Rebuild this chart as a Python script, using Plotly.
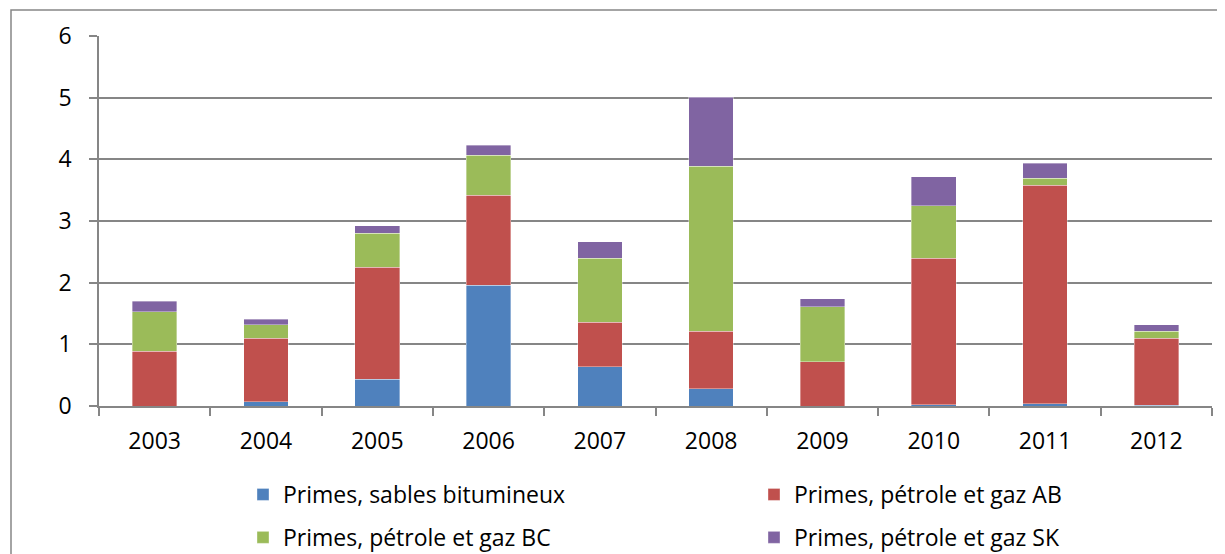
import plotly.graph_objects as go

years = ["2003", "2004", "2005", "2006", "2007", "2008", "2009", "2010", "2011", "2012"]
sables = [0.0, 0.07, 0.43, 1.96, 0.64, 0.28, 0.0, 0.02, 0.04, 0.01]
ab = [0.89, 1.03, 1.82, 1.46, 0.72, 0.93, 0.72, 2.38, 3.54, 1.09]
bc = [0.64, 0.22, 0.55, 0.65, 1.04, 2.68, 0.89, 0.85, 0.11, 0.11]
sk = [0.17, 0.09, 0.12, 0.16, 0.26, 1.12, 0.13, 0.47, 0.25, 0.11]

names = ["Primes, sables bitumineux", "Primes, pétrole et gaz AB",
         "Primes, pétrole et gaz BC", "Primes, pétrole et gaz SK"]
colors = ["#4F81BD", "#C0504D", "#9BBB59", "#8064A2"]
legends = ["legend", "legend2", "legend", "legend2"]

fig = go.Figure()
for i, (vals, name, col, lg) in enumerate(zip([sables, ab, bc, sk], names, colors, legends)):
    fig.add_trace(go.Bar(x=years, y=vals, name=name, legend=lg, legendgroup=str(i),
                         marker=dict(color=col, line=dict(color="rgba(255,255,255,0.6)", width=0.6))))

font = "'Open Sans', sans-serif"
FS = 23
# figure pixel coords (page body has an 8px margin)
L, R, T, B = 91, 1204, 28, 398
W, H = 1217, 546
pw, ph = R - L, B - T

leg_common = dict(orientation="v", yanchor="top", xanchor="left", traceorder="grouped",
                  font=dict(size=FS, family=font, color="black"), tracegroupgap=10,
                  bgcolor="rgba(0,0,0,0)", itemclick=False)
fig.update_layout(
    barmode="stack",
    bargap=0.6,
    width=W, height=H,
    margin=dict(l=L, r=W - R, t=T, b=H - B, autoexpand=False),
    paper_bgcolor="white", plot_bgcolor="white",
    font=dict(family=font, size=FS, color="black"),
    showlegend=True,
    legend=dict(x=144 / pw, y=-67 / ph, **leg_common),
    legend2=dict(x=655 / pw, y=-67 / ph, **leg_common),
    xaxis=dict(type="category", showline=True, linecolor="#868686", linewidth=1.5,
               ticks="outside", ticklen=8, tickcolor="#868686", tickwidth=1.5,
               tickson="boundaries", showgrid=False, ticklabelstandoff=14,
               tickfont=dict(size=FS)),
    yaxis=dict(range=[0, 6], dtick=1, showline=True, linecolor="#868686", linewidth=1.5,
               ticks="outside", ticklen=8, tickcolor="#868686", tickwidth=1.5,
               showgrid=True, gridcolor="#868686", gridwidth=1.5, zeroline=False,
               ticklabelstandoff=13, tickfont=dict(size=FS)),
    shapes=[dict(type="rect", xref="paper", yref="paper",
                 x0=(3 - L) / pw, x1=(1214 - L) / pw,
                 y0=(B - 600) / ph, y1=(B - 2) / ph,
                 line=dict(color="#868686", width=1.5), fillcolor="rgba(0,0,0,0)", layer="below")],
)

fig.write_html("out.html")
